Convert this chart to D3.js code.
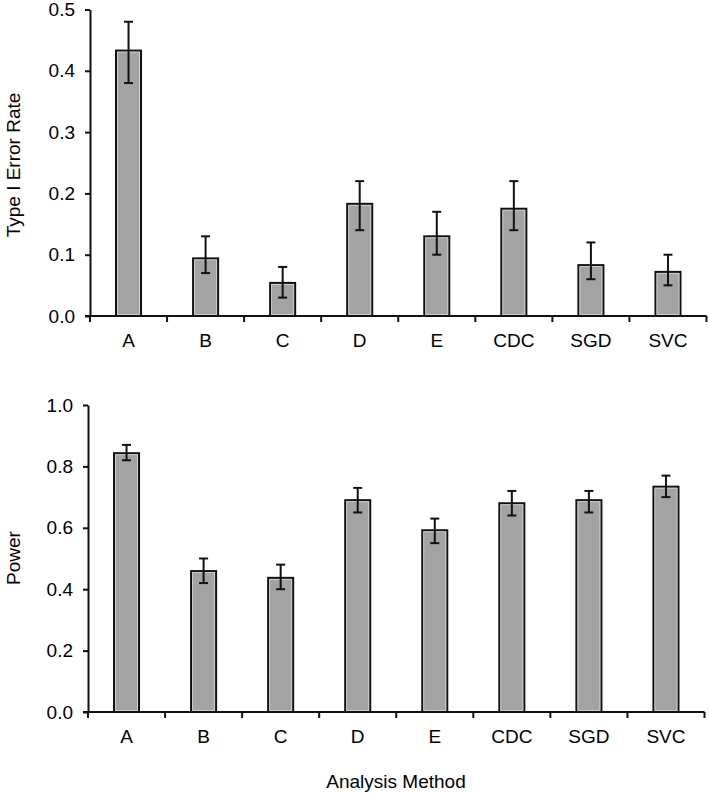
<!DOCTYPE html>
<html>
<head>
<meta charset="utf-8">
<script src="https://cdn.jsdelivr.net/npm/d3@7"></script>
<style>
  html, body { margin: 0; padding: 0; background: #fff; }
  svg { display: block; }
  text { font-family: "Liberation Sans", Arial, sans-serif; fill: #000; }
</style>
</head>
<body>
<svg id="chart" width="709" height="793"></svg>
<script>
const categories = ["A", "B", "C", "D", "E", "CDC", "SGD", "SVC"];

const typeIValues = [0.433, 0.094, 0.054, 0.183, 0.130, 0.175, 0.083, 0.072];
const typeILower  = [0.38, 0.07, 0.03, 0.14, 0.10, 0.14, 0.06, 0.05];
const typeIUpper  = [0.48, 0.13, 0.08, 0.22, 0.17, 0.22, 0.12, 0.10];
const typeITicks  = [0.0, 0.1, 0.2, 0.3, 0.4, 0.5];

const powerValues = [0.843, 0.459, 0.437, 0.690, 0.592, 0.680, 0.690, 0.734];
const powerLower  = [0.82, 0.42, 0.40, 0.65, 0.55, 0.64, 0.65, 0.70];
const powerUpper  = [0.87, 0.50, 0.48, 0.73, 0.63, 0.72, 0.72, 0.77];
const powerTicks  = [0.0, 0.2, 0.4, 0.6, 0.8, 1.0];

const svg = d3.select("#chart");

function panel(cfg) {
  const g = svg.append("g");
  const y = d3.scaleLinear().domain([0, cfg.max]).range([cfg.bottom, cfg.top]);
  const xb = d3.scaleBand().domain(categories).range([cfg.left, cfg.right]).padding(0);
  const x = d3.scaleBand().domain(categories).range([cfg.left, cfg.right])
    .paddingInner(0.675).paddingOuter(0.3375);

  // bars
  const data = categories.map((c, i) => ({c, v: cfg.values[i], lo: cfg.lower[i], hi: cfg.upper[i]}));
  g.selectAll("rect.bar").data(data).join("rect")
    .attr("class", "bar")
    .attr("x", d => x(d.c))
    .attr("width", x.bandwidth())
    .attr("y", d => y(d.v))
    .attr("height", d => y(0) - y(d.v))
    .attr("fill", "#a3a3a3")
    .attr("stroke", "#111")
    .attr("stroke-width", 2);
  g.selectAll("rect.inner").data(data).join("rect")
    .attr("class", "inner")
    .attr("x", d => x(d.c) + 1.5)
    .attr("width", x.bandwidth() - 3)
    .attr("y", d => y(d.v) + 1.5)
    .attr("height", d => Math.max(0, y(0) - y(d.v) - 3))
    .attr("fill", "none")
    .attr("stroke", "#d8d8d8")
    .attr("stroke-width", 0.8);

  // error bars
  const cx = d => x(d.c) + x.bandwidth() / 2;
  const eb = g.selectAll("g.err").data(data).join("g").attr("class", "err")
    .attr("stroke", "#111").attr("stroke-width", 2);
  eb.append("line").attr("x1", cx).attr("x2", cx).attr("y1", d => y(d.lo)).attr("y2", d => y(d.hi));
  eb.append("line").attr("x1", d => cx(d) - 4.5).attr("x2", d => cx(d) + 4.5).attr("y1", d => y(d.hi)).attr("y2", d => y(d.hi));
  eb.append("line").attr("x1", d => cx(d) - 4.5).attr("x2", d => cx(d) + 4.5).attr("y1", d => y(d.lo)).attr("y2", d => y(d.lo));

  // y axis
  const ya = g.append("g").attr("transform", `translate(${cfg.left},0)`)
    .call(d3.axisLeft(y).tickValues(cfg.ticks).tickFormat(d3.format(".1f")).tickSize(5).tickPadding(10).tickSizeOuter(0));
  ya.select(".domain").attr("stroke", "#111").attr("stroke-width", 2);
  ya.selectAll(".tick line").attr("stroke", "#111").attr("stroke-width", 2);
  ya.selectAll("text").attr("font-size", 19).style("font-family", '"Liberation Sans", Arial, sans-serif').attr("fill", "#000");

  // x axis line + boundary ticks
  const xa = g.append("g").attr("transform", `translate(0,${cfg.bottom})`);
  xa.append("line").attr("x1", cfg.left - 5).attr("x2", cfg.right).attr("y1", 0).attr("y2", 0)
    .attr("stroke", "#111").attr("stroke-width", 2);
  const bounds = categories.map(c => xb(c)).concat([cfg.right]);
  xa.selectAll("line.bt").data(bounds).join("line").attr("class", "bt")
    .attr("x1", d => d).attr("x2", d => d).attr("y1", 0).attr("y2", 6)
    .attr("stroke", "#111").attr("stroke-width", 2);
  const lab = g.append("g").attr("transform", `translate(0,${cfg.bottom})`)
    .call(d3.axisBottom(xb).tickSize(0).tickPadding(17.5));
  lab.select(".domain").remove();
  lab.selectAll("text").attr("font-size", 19).style("font-family", '"Liberation Sans", Arial, sans-serif').attr("fill", "#000");

  // y title
  svg.append("text")
    .attr("transform", `translate(${cfg.titleX},${cfg.titleY}) rotate(-90)`)
    .attr("text-anchor", "middle")
    .attr("font-size", 19)
    .text(cfg.title);
}

panel({left: 90, right: 706.5, top: 9.5, bottom: 316, max: 0.5,
  values: typeIValues, lower: typeILower, upper: typeIUpper, ticks: typeITicks,
  title: "Type I Error Rate", titleX: 19.5, titleY: 165});

panel({left: 88, right: 704.5, top: 405, bottom: 712, max: 1.0,
  values: powerValues, lower: powerLower, upper: powerUpper, ticks: powerTicks,
  title: "Power", titleX: 19.5, titleY: 558});

svg.append("text")
  .attr("x", 396).attr("y", 788)
  .attr("text-anchor", "middle")
  .attr("font-size", 19)
  .text("Analysis Method");
</script>
</body>
</html>
